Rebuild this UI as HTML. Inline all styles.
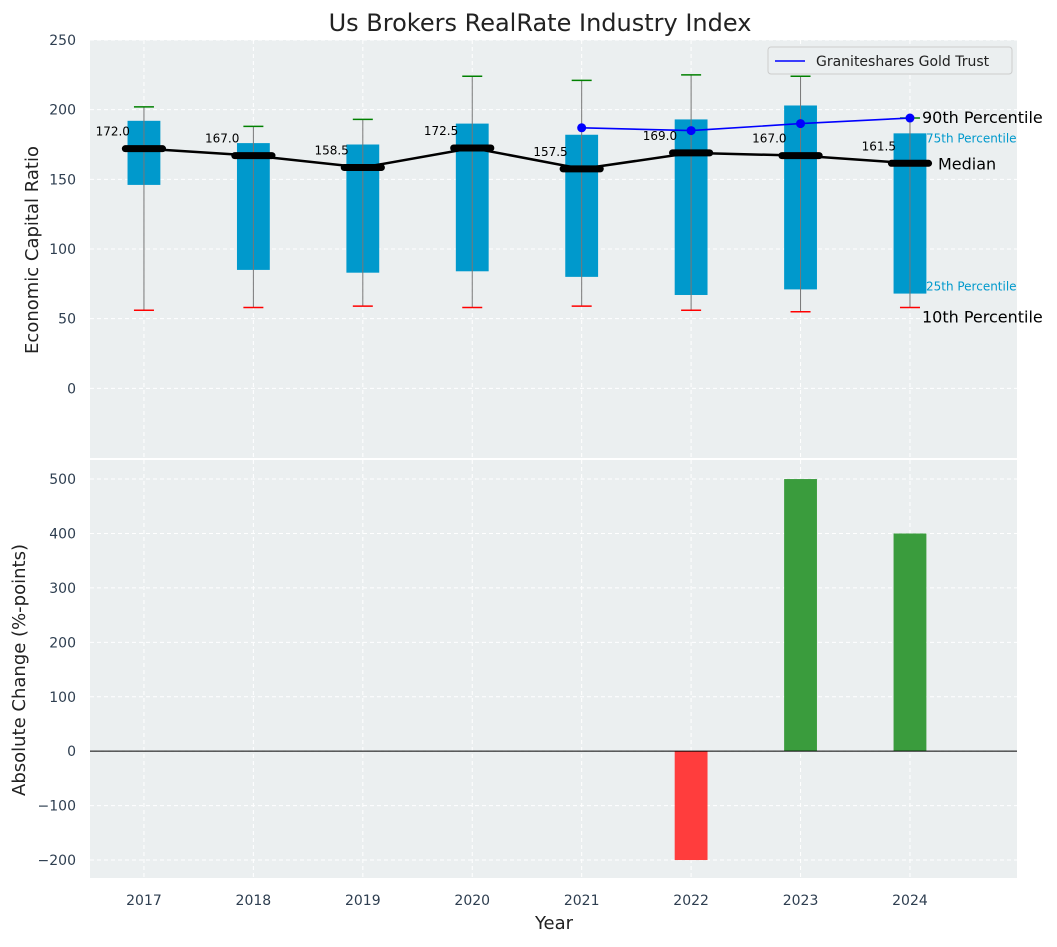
<!DOCTYPE html>
<html><head><meta charset="utf-8"><style>
body{margin:0;background:#fff;}
svg{font-family:"DejaVu Sans","Liberation Sans",sans-serif;}
</style></head><body>
<svg id="chart" width="1057" height="942" viewBox="0 0 1057 942" xmlns="http://www.w3.org/2000/svg">
<text x="540" y="31" text-anchor="middle" font-size="24" fill="#222">Us Brokers RealRate Industry Index</text>
<g id="topPanel"></g>
<g id="botPanel"></g>
</svg>
<script>
const years=[2017,2018,2019,2020,2021,2022,2023,2024];
const p10=[56,58,59,58,59,56,55,58];
const q25=[146,85,83,84,80,67,71,68];
const medians=[172,167,158.5,172.5,157.5,169,167,161.5];
const q75=[192,176,175,190,182,193,203,183];
const p90=[202,188,193,224,221,225,224,194];
const goldYears=[2021,2022,2023,2024];
const goldValues=[187,185,190,194];
const changeYears=[2022,2023,2024];
const changeValues=[-200,500,400];
const topTicks=[0,50,100,150,200,250];
const botTicks=[-200,-100,0,100,200,300,400,500];

const NS="http://www.w3.org/2000/svg";
function mk(parent,tag,attrs,text){const e=document.createElementNS(NS,tag);for(const k in attrs)e.setAttribute(k,attrs[k]);if(text!==undefined)e.textContent=text;parent.appendChild(e);return e;}
const L=90,R=1017,X0=2016.507,X1=2024.978;
const x=v=>L+(v-X0)/(X1-X0)*(R-L);
const T0=40,T1=458,B0=460,B1=878;
const yt=v=>T0+(250-v)/300*(T1-T0);
const yb=v=>B0+(535-v)/(535+233)*(B1-B0);
const topG=document.getElementById('topPanel'),botG=document.getElementById('botPanel');

let bg=mk(topG,'rect',{x:L,y:T0,width:R-L,height:T1-T0,fill:'#ebeff0'});


bg=mk(botG,'rect',{x:L,y:B0,width:R-L,height:B1-B0,fill:'#ebeff0'});



years.forEach(yr=>{
 mk(topG,'line',{x1:x(yr),x2:x(yr),y1:T0,y2:T1,stroke:'#fff','stroke-dasharray':'4,3'});
 mk(botG,'line',{x1:x(yr),x2:x(yr),y1:B0,y2:B1,stroke:'#fff','stroke-dasharray':'4,3'});
 const t=mk(botG,'text',{x:x(yr),y:905,'text-anchor':'middle','font-size':14,fill:'#2e3e50'},yr);
 
 
});
topTicks.forEach(v=>{
 mk(topG,'line',{x1:L,x2:R,y1:yt(v),y2:yt(v),stroke:'#fff','stroke-dasharray':'4,3'});
 const t=mk(topG,'text',{x:76,y:yt(v)+5,'text-anchor':'end','font-size':14,fill:'#2e3e50'},v);
 
 
});
botTicks.forEach(v=>{
 mk(botG,'line',{x1:L,x2:R,y1:yb(v),y2:yb(v),stroke:'#fff','stroke-dasharray':'4,3'});
 const t=mk(botG,'text',{x:76,y:yb(v)+5,'text-anchor':'end','font-size':14,fill:'#2e3e50'},v<0?'\u2212'+(-v):v);
 
 
});

const bw=0.3;
years.forEach((yr,i)=>{
 const b=mk(topG,'rect',{x:x(yr-bw/2),y:yt(q75[i]),width:x(yr+bw/2)-x(yr-bw/2),height:yt(q25[i])-yt(q75[i]),fill:'#0099cc'});
 
 
 const w=mk(topG,'line',{x1:x(yr),x2:x(yr),y1:yt(p90[i]),y2:yt(p10[i]),stroke:'#777','stroke-width':1});
 
 
 const c1=mk(topG,'line',{x1:x(yr)-10,x2:x(yr)+10,y1:yt(p90[i]),y2:yt(p90[i]),stroke:'green','stroke-width':1.5});
 
 
 const c2=mk(topG,'line',{x1:x(yr)-10,x2:x(yr)+10,y1:yt(p10[i]),y2:yt(p10[i]),stroke:'red','stroke-width':1.5});
 
 
});
const ml=mk(topG,'polyline',{points:years.map((yr,i)=>x(yr)+','+yt(medians[i])).join(' '),fill:'none',stroke:'#000','stroke-width':2.5});


years.forEach((yr,i)=>{
 const m=mk(topG,'line',{x1:x(yr-0.17),x2:x(yr+0.17),y1:yt(medians[i]),y2:yt(medians[i]),stroke:'#000','stroke-width':7,'stroke-linecap':'round'});
 
 
 const t=mk(topG,'text',{x:x(yr)-14,y:yt(medians[i])-13,'text-anchor':'end','font-size':12,fill:'#000'},medians[i].toFixed(1));
 
 
});
const gl=mk(topG,'polyline',{points:goldYears.map((yr,i)=>x(yr)+','+yt(goldValues[i])).join(' '),fill:'none',stroke:'blue','stroke-width':1.6});


goldYears.forEach((yr,i)=>{
 const c=mk(topG,'circle',{cx:x(yr),cy:yt(goldValues[i]),r:4.5,fill:'blue'});
 
 
});
const last=years.length-1,xl=x(years[last]);
[[p90[last],'90th Percentile',16,'#000',12,5],[q75[last],'75th Percentile',12,'#0099cc',16,9],[medians[last],'Median',16,'#000',28,6],[q25[last],'25th Percentile',12,'#0099cc',16,-3],[p10[last],'10th Percentile',16,'#000',12,15]].forEach(a=>{
 const t=mk(topG,'text',{x:xl+a[4],y:yt(a[0])+a[5],'font-size':a[2],fill:a[3]},a[1]);
 
 
});
const lg=mk(topG,'g',{});


mk(lg,'rect',{x:768,y:47,width:244,height:27,rx:3,fill:'#ebeff0',stroke:'#ccc'});
mk(lg,'line',{x1:775,x2:805,y1:61,y2:61,stroke:'blue','stroke-width':1.6});
mk(lg,'text',{x:816,y:66,'font-size':14,fill:'#222'},'Graniteshares Gold Trust');
let at=mk(topG,'text',{x:38,y:250,'text-anchor':'middle','font-size':18,fill:'#222',transform:'rotate(-90 38 250)'},'Economic Capital Ratio');


at=mk(botG,'text',{x:25,y:670,'text-anchor':'middle','font-size':18,fill:'#222',transform:'rotate(-90 25 670)'},'Absolute Change (%-points)');


at=mk(botG,'text',{x:554,y:929,'text-anchor':'middle','font-size':18,fill:'#222'},'Year');


changeYears.forEach((yr,i)=>{
 const v=changeValues[i];
 const b=mk(botG,'rect',{x:x(yr-0.15),y:Math.min(yb(v),yb(0)),width:x(yr+0.15)-x(yr-0.15),height:Math.abs(yb(v)-yb(0)),fill:v<0?'#ff3d3d':'#3a9c3d'});
 
 
});
const zl=mk(botG,'line',{x1:L,x2:R,y1:yb(0),y2:yb(0),stroke:'#000','stroke-width':1});


</script>
</body></html>
